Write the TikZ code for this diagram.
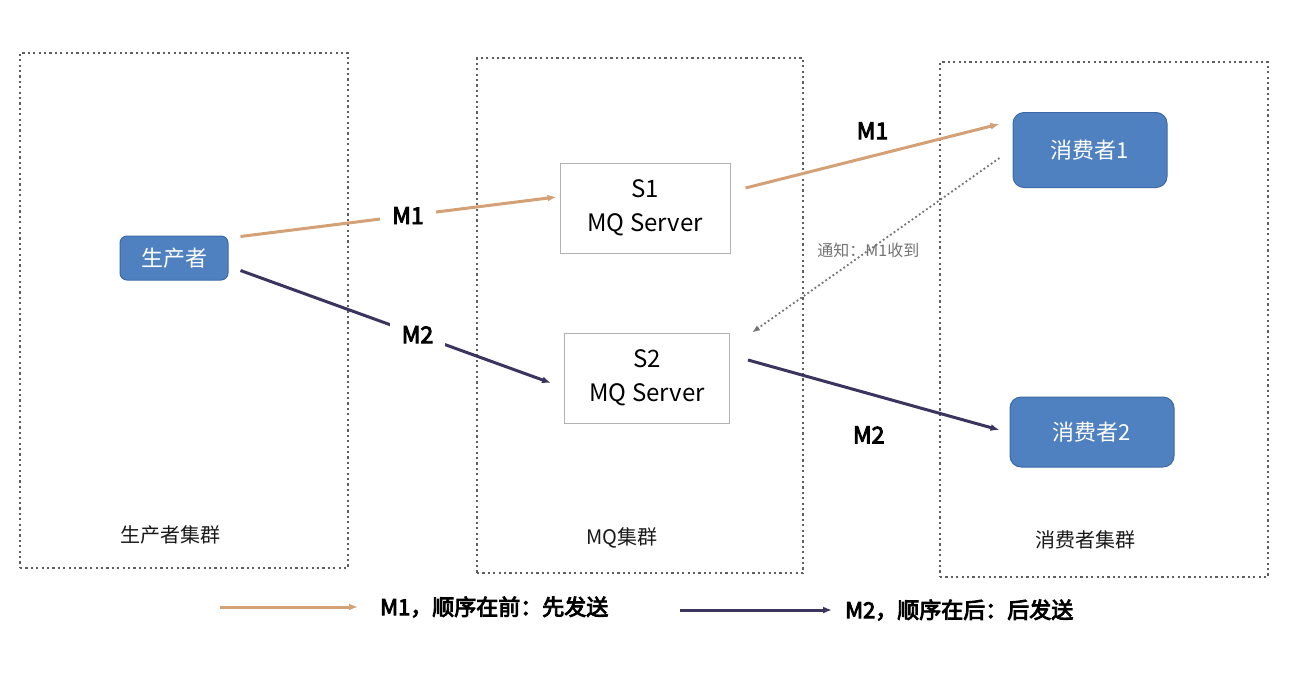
\documentclass[tikz,border=0pt]{standalone}
\usepackage{fontspec}
\setmainfont{Noto Sans CJK SC}[AutoFakeBold=4]
\usepackage{xcolor}
\usepackage{tikz}
\usetikzlibrary{arrows.meta, positioning, calc}

\definecolor{dotgray}{RGB}{95,95,95}
\definecolor{bluefill}{RGB}{79,129,192}
\definecolor{blueline}{RGB}{60,105,165}
\definecolor{firstcol}{RGB}{212,160,118}
\definecolor{secondcol}{RGB}{58,52,94}
\definecolor{notegray}{RGB}{115,115,115}

\begin{document}
\begin{tikzpicture}[
    x=1pt, y=-1pt,
    cluster/.style={draw=dotgray, line width=2.6pt, dash pattern=on 2.2pt off 3.2pt},
    clusterlbl/.style={font=\fontsize{20}{24}\selectfont, text=black!90},
    client/.style={draw=blueline, fill=bluefill, line width=1pt, rounded corners=7pt, text=white, font=\fontsize{22}{26}\selectfont},
    server/.style={draw=gray!60, fill=white, line width=1pt, align=center, minimum width=170pt, minimum height=90pt, font=\fontsize{24}{34}\selectfont},
    firstmsg/.style={draw=firstcol, line width=3pt, -{Latex[length=9pt,width=7pt]}},
    secondmsg/.style={draw=secondcol, line width=3pt, -{Latex[length=9pt,width=7pt]}},
    notify/.style={draw=notegray, line width=1.8pt, dash pattern=on 1.8pt off 2.6pt, -{Latex[length=8pt,width=6pt]}},
    msglbl/.style={font=\bfseries\fontsize{23}{26}\selectfont},
    legtxt/.style={inner sep=0pt, font=\bfseries\fontsize{22}{26}\selectfont}
]
\useasboundingbox (0,0) rectangle (1306,678);

% clusters
\node[cluster, minimum width=328pt, minimum height=515pt] (pcluster) at (184,310.5) {};
\node[cluster, minimum width=326pt, minimum height=515pt] (mqcluster) at (640,315.5) {};
\node[cluster, minimum width=328pt, minimum height=515pt] (ccluster) at (1104,319.5) {};
\node[clusterlbl] (plbl) at (170,535) {生产者集群};
\node[clusterlbl] (mqlbl) at (622,538) {MQ集群};
\node[clusterlbl] (clbl) at (1085,540) {消费者集群};

% nodes
\node[client, minimum width=108pt, minimum height=44pt] (prod) at (174,258) {生产者};
\node[server] (s1) at (645,208) {S1\\MQ Server};
\node[server, minimum width=165pt] (s2) at (647,378) {S2\\MQ Server};
\node[client, minimum width=154pt, minimum height=75pt, rounded corners=11pt] (c1) at (1090,150) {消费者1};
\node[client, minimum width=164pt, minimum height=70pt, rounded corners=11pt] (c2) at (1092,432) {消费者2};

% messages
\draw[firstmsg] ([shift={(12,1)}]prod.north east) -- node[msglbl, fill=white, inner sep=12pt, pos=0.53] {M1} ([shift={(-3,-11)}]s1.west);
\draw[secondmsg] ([shift={(12,-10)}]prod.south east) -- node[msglbl, fill=white, inner sep=12pt, pos=0.57] {M2} ([shift={(-13,5)}]s2.west);
\draw[firstmsg] ([shift={(15,-20)}]s1.east) -- node[msglbl, above=12pt, pos=0.5] {M1} ([shift={(-13,-26)}]c1.west);
\draw[secondmsg] ([shift={(18,-18)}]s2.east) -- node[msglbl, below=28pt, pos=0.48] {M2} ([shift={(-10,-2)}]c2.west);
\draw[notify] ([shift={(-13,8)}]c1.west) -- node[pos=0.53, text=notegray, font=\fontsize{16}{18}\selectfont] {通知：M1收到} ([shift={(22,0)}]s2.north east);

% legend
\node[legtxt, anchor=west] (leg1) at (380,607) {M1，顺序在前：先发送};
\node[legtxt, anchor=west] (leg2) at (845,610) {M2，顺序在后：后发送};
\coordinate (leg1s) at (220,607);
\coordinate (leg2s) at (680,610);
\draw[firstmsg] (leg1s) -- ([xshift=-22pt]leg1.west);
\draw[secondmsg] (leg2s) -- ([xshift=-13pt]leg2.west);

\end{tikzpicture}
\end{document}
